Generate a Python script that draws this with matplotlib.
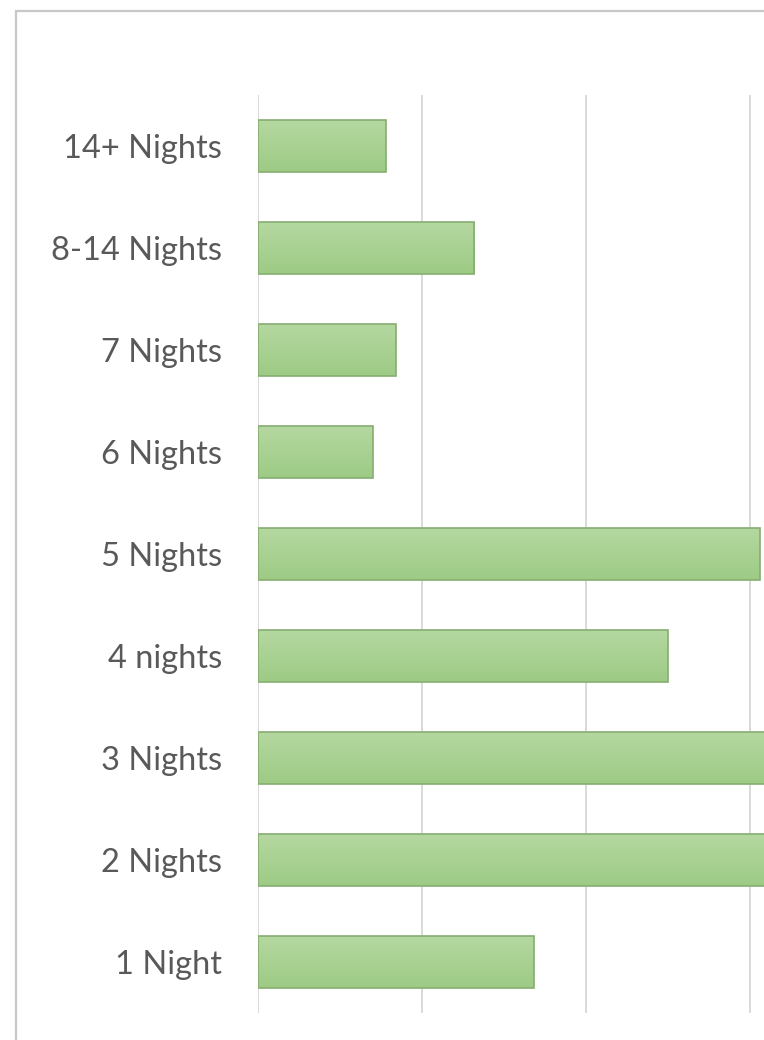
import numpy as np
import matplotlib.pyplot as plt
from matplotlib.patches import Rectangle
from matplotlib.colors import LinearSegmentedColormap

# length of stay, bottom to top
categories = ["1 Night", "2 Nights", "3 Nights", "4 nights", "5 Nights",
              "6 Nights", "7 Nights", "8-14 Nights", "14+ Nights"]
values = [8.4, 18.0, 17.0, 12.5, 15.3, 3.5, 4.2, 6.6, 3.9]
grid_ticks = [0, 5, 10, 15]

BAR_TOP = "#b5d8a1"
BAR_BOTTOM = "#9dcb85"
BAR_EDGE = "#86ad70"
GRID = "#d9d9d9"
TEXT = "#595959"


def main():
    fig = plt.figure(figsize=(7.64, 10.40), dpi=100)

    # chart frame, runs off the right and bottom edges
    fig.patches.append(Rectangle((16 / 764, -0.05), 1.2, 1.05 - 11 / 1040,
                                 transform=fig.transFigure, fill=False,
                                 edgecolor="#c8c8c8", linewidth=1.6))

    ax = fig.add_axes([258 / 764, 27 / 1040, 506 / 764, 918 / 1040])
    y = np.arange(len(categories))
    xmax = 506 / 164 * 5

    bars = ax.barh(y, values, height=0.51, color=BAR_BOTTOM,
                   edgecolor=BAR_EDGE, linewidth=1.2, zorder=3)

    # soft vertical gradient inside each bar, lighter at the top
    cmap = LinearSegmentedColormap.from_list("bar", [BAR_TOP, BAR_BOTTOM])
    grad = np.linspace(0, 1, 64).reshape(-1, 1)
    for b in bars:
        x0, y0 = b.get_x(), b.get_y()
        w, h = b.get_width(), b.get_height()
        im = ax.imshow(grad, cmap=cmap, aspect="auto", origin="upper",
                       extent=(x0, x0 + w, y0, y0 + h), zorder=2.5,
                       interpolation="bilinear")
        im.set_clip_path(b)
        b.set_facecolor("none")

    ax.set_xlim(0, xmax)
    ax.set_ylim(-0.5, len(categories) - 0.5)
    ax.set_xticks(grid_ticks)
    ax.set_xticklabels([])
    ax.tick_params(axis="x", length=0)
    ax.grid(axis="x", color=GRID, linewidth=1.4, zorder=0)

    ax.set_yticks(y)
    ax.set_yticklabels(categories, fontsize=23.5, color=TEXT,
                       family=["Lato", "DejaVu Sans"])
    ax.tick_params(axis="y", length=0, pad=26)

    for s in ax.spines.values():
        s.set_visible(False)

    fig.savefig("out.png", dpi=100)


if __name__ == "__main__":
    main()
